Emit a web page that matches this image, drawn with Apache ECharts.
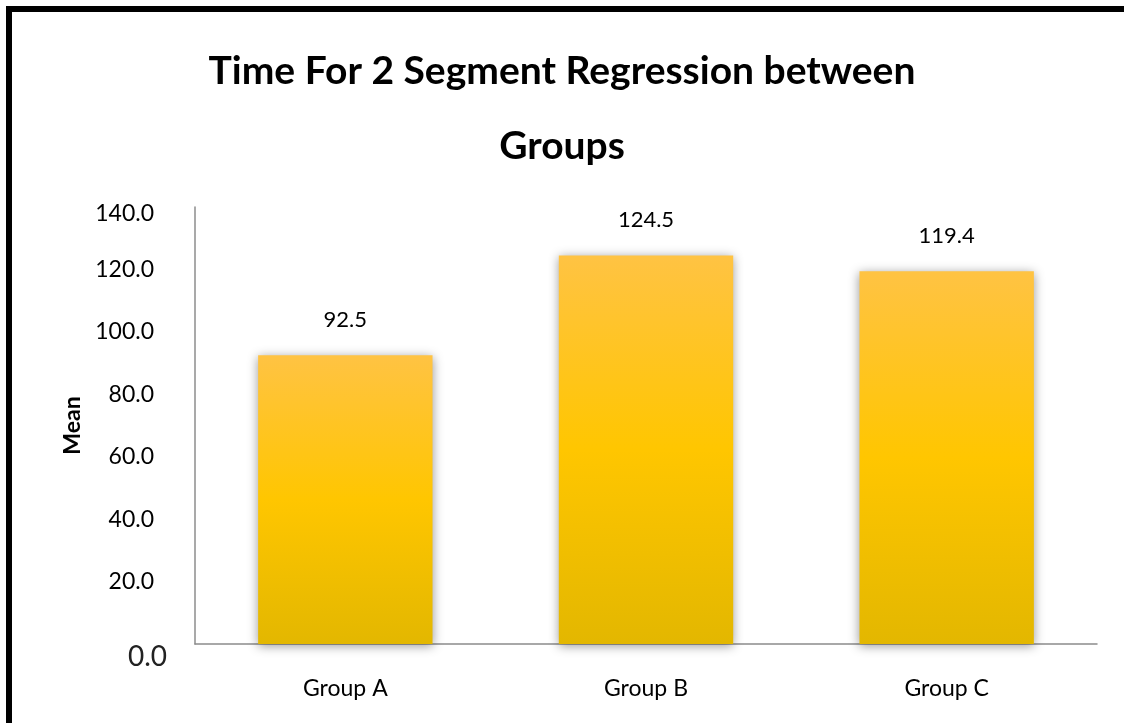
<!DOCTYPE html>
<html>
<head>
<meta charset="utf-8">
<title>Time For 2 Segment Regression between Groups</title>
<script src="https://cdn.jsdelivr.net/npm/echarts@6/dist/echarts.min.js"></script>
<style>
  html, body { margin: 0; padding: 0; background: #fff; }
  #chart { width: 1124px; height: 725px; }
</style>
</head>
<body>
<div id="chart"></div>
<script>
// Mean time per group
const categories = ['Group A', 'Group B', 'Group C'];
const meanValues = [92.5, 124.5, 119.4];
const yTicks = { min: 0, max: 140, interval: 20 };

const chart = echarts.init(document.getElementById('chart'), null, { renderer: 'canvas' });

const barFill = new echarts.graphic.LinearGradient(0, 0, 0, 1, [
  { offset: 0, color: '#FFC343' },
  { offset: 0.5, color: '#FFC600' },
  { offset: 1, color: '#E3B700' }
]);

// y tick labels: the baseline label is set larger, the top one sits a little lower
function yLabel(v) {
  const s = v.toFixed(1);
  if (v === yTicks.min) return '{z|' + s + '}';
  if (v === yTicks.max) return '{t|' + s + '}';
  return '{n|' + s + '}';
}

chart.setOption({
  backgroundColor: '#ffffff',
  animation: false,
  title: {
    text: 'Time For 2 Segment Regression between\nGroups',
    left: 'center',
    top: 29,
    textStyle: {
      fontFamily: 'Lato',
      fontWeight: 'bold',
      fontSize: 39,
      lineHeight: 75,
      color: '#000'
    }
  },
  graphic: [
    // frame along the top and left edges
    { type: 'rect', left: 6, top: 6, shape: { width: 1118, height: 6 }, style: { fill: '#000' }, silent: true },
    { type: 'rect', left: 6, top: 6, shape: { width: 6, height: 717 }, style: { fill: '#000' }, silent: true }
  ],
  grid: { left: 195, right: 27, top: 207, bottom: 81 },
  xAxis: {
    type: 'category',
    data: categories,
    axisLine: { lineStyle: { color: '#8c8c8c', width: 1.5 } },
    axisTick: { show: false },
    axisLabel: { color: '#000', fontFamily: 'Lato', fontSize: 23, margin: 33 }
  },
  yAxis: {
    type: 'value',
    min: yTicks.min,
    max: yTicks.max,
    interval: yTicks.interval,
    name: 'Mean',
    nameLocation: 'middle',
    nameGap: 110,
    nameTextStyle: { fontFamily: 'Lato', fontWeight: 'bold', fontSize: 23, color: '#000' },
    axisLine: { show: true, lineStyle: { color: '#8c8c8c', width: 1.5 } },
    axisTick: { show: false },
    splitLine: { show: false },
    axisLabel: {
      color: '#000',
      fontFamily: 'Lato',
      margin: 28,
      formatter: yLabel,
      rich: {
        n: { fontFamily: 'Lato', fontSize: 23, color: '#000', padding: [0, 13, 0, 0] },
        t: { fontFamily: 'Lato', fontSize: 23, color: '#000', padding: [14, 13, 0, 0] },
        z: { fontFamily: 'Lato', fontSize: 28, color: '#222', padding: [26, 0, 0, 0] }
      }
    }
  },
  series: [{
    type: 'bar',
    data: meanValues,
    barWidth: '58%',
    itemStyle: {
      color: barFill,
      shadowColor: 'rgba(0,0,0,0.4)',
      shadowBlur: 10,
      shadowOffsetY: 2
    },
    label: {
      show: true,
      position: 'top',
      distance: 24,
      color: '#000',
      fontFamily: 'Lato',
      fontSize: 22,
      formatter: p => p.value.toFixed(1)
    }
  }]
});
</script>
</body>
</html>
